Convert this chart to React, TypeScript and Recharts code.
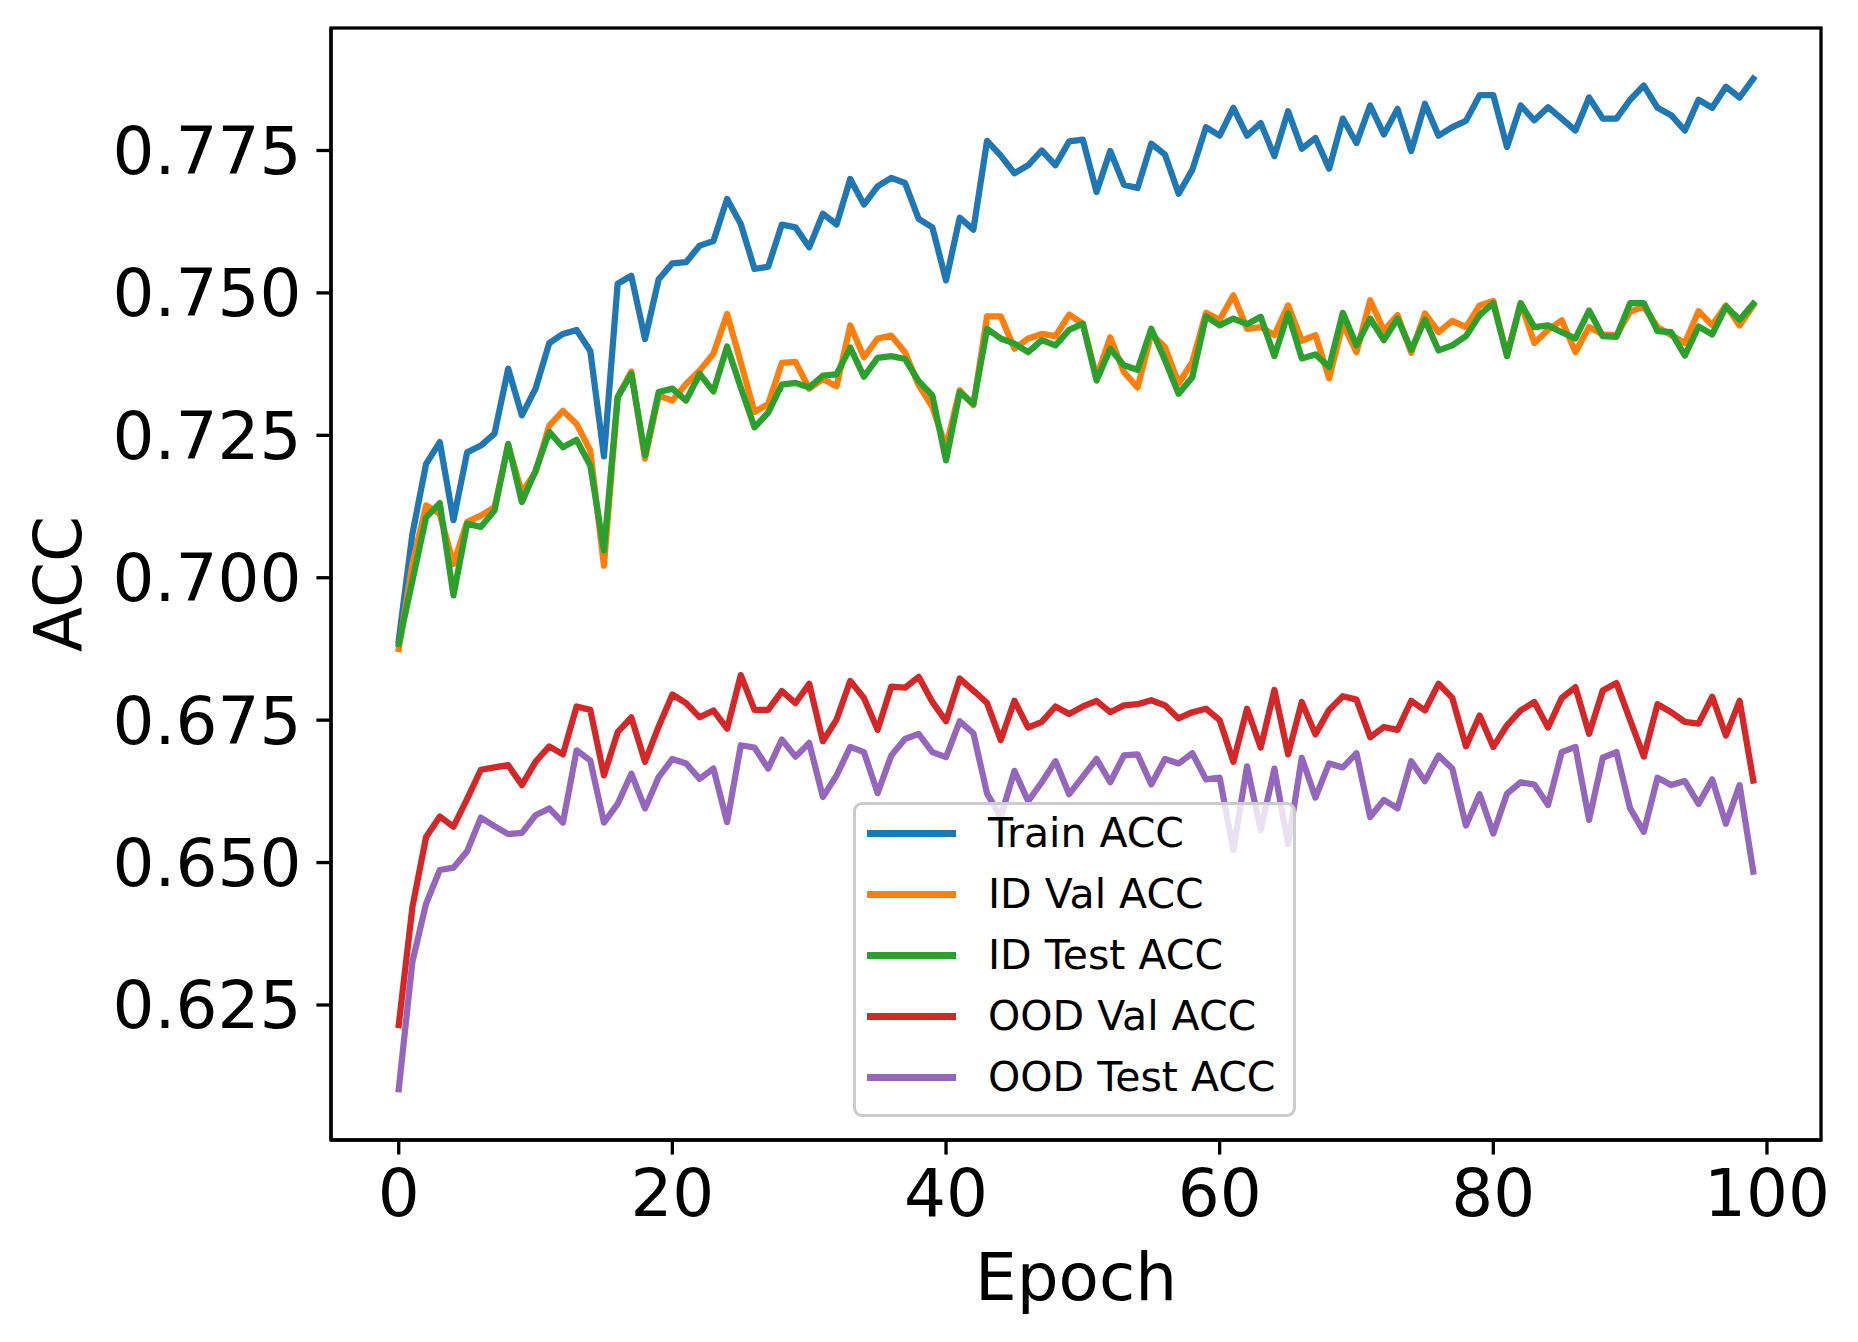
import React from 'react';
import { LineChart, Line, XAxis, YAxis, Legend, Customized } from 'recharts';

const epochs = Array.from({ length: 100 }, (_, i) => i);

const trainAcc = [
  0.689, 0.7077, 0.72, 0.7238, 0.7101, 0.722, 0.7232, 0.7253, 0.7367, 0.7285,
  0.7332, 0.7412, 0.7428, 0.7435, 0.7398, 0.7213, 0.7516, 0.753, 0.7419, 0.7524,
  0.7552, 0.7554, 0.7583, 0.7591, 0.7665, 0.7621, 0.7542, 0.7546, 0.762, 0.7615,
  0.758, 0.7639, 0.762, 0.77, 0.7655, 0.7687, 0.7702, 0.7693, 0.763, 0.7615,
  0.7522, 0.7632, 0.7611, 0.7767, 0.7741, 0.771, 0.7724, 0.775, 0.7724, 0.7766,
  0.7769, 0.7677, 0.7749, 0.769, 0.7684, 0.7762, 0.7743, 0.7674, 0.7716, 0.7791,
  0.7776, 0.7825, 0.7776, 0.7798, 0.774, 0.7819, 0.7753, 0.7772, 0.7718, 0.7806,
  0.7763, 0.7829, 0.7778, 0.7823, 0.7749, 0.7832, 0.7776, 0.7791, 0.7802, 0.7847,
  0.7847, 0.7756, 0.7829, 0.7803, 0.7826, 0.7806, 0.7785, 0.7843, 0.7806, 0.7806,
  0.7839, 0.7864, 0.7825, 0.7812, 0.7785, 0.7839, 0.7825, 0.7862, 0.7843, 0.7876,
];

const idValAcc = [
  0.6875, 0.7024, 0.7127, 0.7112, 0.7024, 0.7098, 0.7109, 0.7124, 0.7232, 0.715,
  0.7185, 0.7267, 0.7293, 0.727, 0.7223, 0.7021, 0.7317, 0.7362, 0.7209, 0.732,
  0.7311, 0.734, 0.7364, 0.7393, 0.7463, 0.7378, 0.7291, 0.7305, 0.7377, 0.7379,
  0.7332, 0.7349, 0.7336, 0.7443, 0.7387, 0.742, 0.7425, 0.7396, 0.7338, 0.73,
  0.7229, 0.7329, 0.7303, 0.7459, 0.7459, 0.7402, 0.742, 0.7428, 0.7424, 0.7462,
  0.7446, 0.7352, 0.7422, 0.7361, 0.7334, 0.7428, 0.7405, 0.7341, 0.7379, 0.7465,
  0.7453, 0.7496, 0.7437, 0.744, 0.7426, 0.7478, 0.7416, 0.7426, 0.735, 0.7446,
  0.7396, 0.7487, 0.7434, 0.7461, 0.7395, 0.7464, 0.7431, 0.7451, 0.744, 0.7478,
  0.7486, 0.739, 0.7482, 0.7412, 0.7435, 0.7452, 0.7396, 0.744, 0.7427, 0.7426,
  0.7467, 0.7476, 0.744, 0.7426, 0.7412, 0.7468, 0.7443, 0.7478, 0.7443, 0.7478,
];

const idTestAcc = [
  0.6884, 0.6995, 0.7106, 0.7131, 0.6969, 0.7095, 0.7089, 0.7118, 0.7235, 0.7133,
  0.7188, 0.7256, 0.7229, 0.7242, 0.7197, 0.7048, 0.7317, 0.7358, 0.7215, 0.7326,
  0.7332, 0.7311, 0.7358, 0.7327, 0.7406, 0.7334, 0.7264, 0.729, 0.7339, 0.7342,
  0.7334, 0.7355, 0.7357, 0.7404, 0.7353, 0.7386, 0.7389, 0.7384, 0.7345, 0.732,
  0.7206, 0.7326, 0.7305, 0.7437, 0.742, 0.7411, 0.7396, 0.7417, 0.7408, 0.7435,
  0.7446, 0.7346, 0.7402, 0.7373, 0.7365, 0.7437, 0.7382, 0.7323, 0.7352, 0.7459,
  0.7443, 0.7455, 0.7445, 0.7458, 0.7389, 0.7464, 0.7385, 0.7392, 0.737, 0.7465,
  0.7408, 0.7455, 0.7417, 0.7455, 0.74, 0.7453, 0.7399, 0.7408, 0.7424, 0.7461,
  0.7482, 0.7389, 0.7482, 0.744, 0.7443, 0.7431, 0.742, 0.7469, 0.7424, 0.7423,
  0.7482, 0.7482, 0.7433, 0.7431, 0.739, 0.7441, 0.7427, 0.7476, 0.7453, 0.7481,
];

const oodValAcc = [
  0.6215, 0.6422, 0.6545, 0.6581, 0.6563, 0.6612, 0.6663, 0.6667, 0.6671, 0.6636,
  0.6677, 0.6704, 0.669, 0.6774, 0.6768, 0.6653, 0.6729, 0.6755, 0.6677, 0.6739,
  0.6795, 0.678, 0.6755, 0.6767, 0.6735, 0.6829, 0.6768, 0.6768, 0.6801, 0.678,
  0.6814, 0.6713, 0.6751, 0.6819, 0.6789, 0.6733, 0.6809, 0.6807, 0.6826, 0.6782,
  0.6748, 0.6823, 0.6802, 0.678, 0.6715, 0.6784, 0.6737, 0.6747, 0.6774, 0.6761,
  0.6774, 0.6784, 0.6764, 0.6776, 0.6778, 0.6785, 0.6776, 0.6753, 0.6764, 0.677,
  0.675, 0.6677, 0.677, 0.6702, 0.6803, 0.669, 0.6782, 0.6725, 0.6768, 0.6792,
  0.6786, 0.672, 0.6738, 0.6733, 0.6784, 0.6767, 0.6814, 0.6789, 0.6704, 0.6758,
  0.6703, 0.6741, 0.6767, 0.6782, 0.6737, 0.6789, 0.6808, 0.6726, 0.6802, 0.6815,
  0.675, 0.6686, 0.6778, 0.6764, 0.6747, 0.6744, 0.6791, 0.6723, 0.6784, 0.6644,
];

const oodTestAcc = [
  0.6102, 0.6326, 0.6428, 0.6487, 0.6491, 0.652, 0.6579, 0.6564, 0.655, 0.6552,
  0.6583, 0.6595, 0.657, 0.6697, 0.6679, 0.657, 0.6603, 0.6656, 0.6595, 0.665,
  0.6682, 0.6674, 0.6647, 0.6665, 0.6571, 0.6706, 0.6702, 0.6665, 0.6716, 0.6686,
  0.671, 0.6615, 0.6653, 0.6703, 0.6694, 0.6622, 0.6688, 0.6717, 0.6726, 0.6694,
  0.6685, 0.6748, 0.6727, 0.6621, 0.658, 0.6661, 0.6608, 0.6641, 0.6678, 0.662,
  0.6651, 0.6682, 0.6641, 0.6688, 0.669, 0.6637, 0.6682, 0.6674, 0.6692, 0.6646,
  0.6649, 0.6522, 0.6669, 0.6557, 0.6665, 0.6532, 0.6684, 0.6614, 0.6674, 0.6667,
  0.6692, 0.658, 0.661, 0.6595, 0.6678, 0.6643, 0.6688, 0.6665, 0.6565, 0.662,
  0.6551, 0.6621, 0.6641, 0.6637, 0.6601, 0.6694, 0.6703, 0.6575, 0.6684, 0.6694,
  0.6595, 0.6554, 0.6649, 0.6636, 0.6643, 0.6603, 0.6646, 0.6568, 0.6636, 0.6484,
];

const xTicks = [0, 20, 40, 60, 80, 100];
const yTicks = [0.625, 0.65, 0.675, 0.7, 0.725, 0.75, 0.775];

const series = [
  { key: 'train', name: 'Train ACC', color: '#1f77b4', values: trainAcc },
  { key: 'idVal', name: 'ID Val ACC', color: '#ff7f0e', values: idValAcc },
  { key: 'idTest', name: 'ID Test ACC', color: '#2ca02c', values: idTestAcc },
  { key: 'oodVal', name: 'OOD Val ACC', color: '#d62728', values: oodValAcc },
  { key: 'oodTest', name: 'OOD Test ACC', color: '#9467bd', values: oodTestAcc },
];

const data = epochs.map((e, i) => {
  const row: Record<string, number> = { epoch: e };
  series.forEach(s => { row[s.key] = s.values[i]; });
  return row;
});

// figure geometry (matplotlib-like, 300 dpi)
const W = 1858;
const H = 1342;
const PLOT_LEFT = 331;
const PLOT_TOP = 28;
const PLOT_W = 1490;
const PLOT_H = 1112;
const Y_AXIS_W = 240;
const X_AXIS_H = 120;
const FONT = '"DejaVu Sans", sans-serif';
const SPINE = 3.3;

const renderLegend = (props: any) => {
  const payload = props.payload || [];
  // keep the plotting order, not the alphabetical one
  const ordered = series
    .map(s => payload.find((p: any) => p.value === s.name))
    .filter(Boolean);
  return (
    <div
      style={{
        position: 'relative',
        width: 443,
        height: 315,
        boxSizing: 'border-box',
        border: '3.3px solid #cccccc',
        borderRadius: 9,
        background: 'rgba(255,255,255,0.8)',
        fontFamily: FONT,
        fontSize: 41,
        color: '#000',
      }}
    >
      {ordered.map((entry: any, i: number) => (
        <div
          key={entry.value}
          style={{
            position: 'absolute',
            left: 0,
            top: i * 61 - 2,
            height: 61,
            width: '100%',
            display: 'flex',
            alignItems: 'center',
          }}
        >
          <div style={{ marginLeft: 11, width: 89, height: 6.25, background: entry.color }} />
          <span style={{ marginLeft: 32, whiteSpace: 'nowrap', lineHeight: '61px' }}>{entry.value}</span>
        </div>
      ))}
    </div>
  );
};

const Frame = () => (
  <g>
    <rect
      x={PLOT_LEFT}
      y={PLOT_TOP}
      width={PLOT_W}
      height={PLOT_H}
      fill="none"
      stroke="#000"
      strokeWidth={SPINE}
    />
    <text
      x={81}
      y={PLOT_TOP + PLOT_H / 2}
      transform={`rotate(-90, 81, ${PLOT_TOP + PLOT_H / 2})`}
      textAnchor="middle"
      fontFamily={FONT}
      fontSize={66}
      fill="#000"
    >
      ACC
    </text>
    <text
      x={PLOT_LEFT + PLOT_W / 2}
      y={1300}
      textAnchor="middle"
      fontFamily={FONT}
      fontSize={66}
      fill="#000"
    >
      Epoch
    </text>
  </g>
);

export default function App() {
  const tickStyle = { fontFamily: FONT, fontSize: 66, fill: '#000' };
  return (
    <div style={{ position: 'absolute', left: 0, top: 0, width: W, height: H, background: '#fff' }}>
      <LineChart
        width={W}
        height={H}
        data={data}
        margin={{
          top: PLOT_TOP,
          left: PLOT_LEFT - Y_AXIS_W,
          right: W - PLOT_LEFT - PLOT_W,
          bottom: H - PLOT_TOP - PLOT_H - X_AXIS_H,
        }}
      >
        <XAxis
          dataKey="epoch"
          type="number"
          domain={[-4.95, 103.95]}
          ticks={xTicks}
          allowDataOverflow
          height={X_AXIS_H}
          tick={tickStyle}
          tickSize={14.6}
          tickMargin={15}
          axisLine={{ stroke: '#000', strokeWidth: SPINE }}
          tickLine={{ stroke: '#000', strokeWidth: SPINE }}
        />
        <YAxis
          type="number"
          domain={[0.6013, 0.7965]}
          ticks={yTicks}
          allowDataOverflow
          width={Y_AXIS_W}
          tick={tickStyle}
          tickSize={14.6}
          tickMargin={15}
          tickFormatter={(v: number) => v.toFixed(3)}
          axisLine={{ stroke: '#000', strokeWidth: SPINE }}
          tickLine={{ stroke: '#000', strokeWidth: SPINE }}
        />
        {series.map(s => (
          <Line
            key={s.key}
            type="linear"
            dataKey={s.key}
            name={s.name}
            stroke={s.color}
            strokeWidth={6.25}
            strokeLinejoin="round"
            strokeLinecap="square"
            dot={false}
            activeDot={false}
            isAnimationActive={false}
          />
        ))}
        <Customized component={<Frame />} />
        <Legend
          layout="vertical"
          align="center"
          verticalAlign="middle"
          content={renderLegend}
          wrapperStyle={{ position: 'absolute', left: 853, top: 802, width: 443, height: 315, margin: 0 }}
        />
      </LineChart>
    </div>
  );
}
